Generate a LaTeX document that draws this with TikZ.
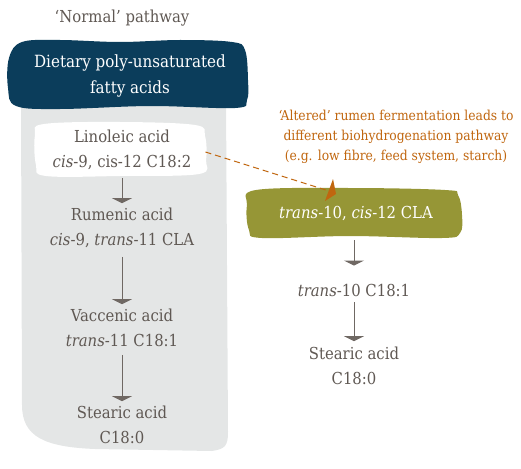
\documentclass[tikz,border=0pt]{standalone}
\usepackage{fontspec}
\setmainfont{DejaVu Serif Condensed}
\usetikzlibrary{arrows.meta}
\definecolor{navy}{HTML}{0B3D5B}
\definecolor{olive}{HTML}{969636}
\definecolor{rust}{HTML}{C0660F}
\definecolor{bggrey}{HTML}{E4E6E6}
\definecolor{txt}{HTML}{5F5853}
\definecolor{arrgrey}{HTML}{6F6863}
\tikzset{
  lbl/.style={text=txt, align=center, inner sep=0pt, font=\fontsize{16.5}{24.5}\selectfont},
  whitelbl/.style={lbl, text=white},
  arr/.style={draw=arrgrey, line width=1pt, -{Triangle[width=20pt,length=5pt]}},
}
\begin{document}
\begin{tikzpicture}[x=1pt,y=-1pt]
\useasboundingbox (0,0) rectangle (521,468);
% grey background
\fill[bggrey] (21,100) -- (226,100) -- (228,432) .. controls (228,446) and (225,449) .. (212,451)
  -- (95,449) .. controls (45,447) and (22,437) .. (22,405) -- cycle;
% dark blue blob
\fill[navy] plot[smooth cycle, tension=0.6] coordinates {(22,42) (60,40) (120,42) (180,40) (232,42) (245,50) (248,80) (247,100) (235,108) (150,106) (60,109) (16,106) (8,88) (9,58)};
% white blob
\fill[white] plot[smooth cycle, tension=0.6] coordinates {(44,124) (120,122) (195,125) (205,136) (206,160) (199,174) (120,176) (46,176) (36,165) (35,135)};
% olive blob
\fill[olive] plot[smooth cycle, tension=0.6] coordinates {(256,190) (350,188) (445,190) (458,195) (462,215) (460,233) (442,238) (350,236) (262,238) (249,230) (247,205)};

\node[lbl] (title) at (122,18) {‘Normal’ pathway};
\node[whitelbl, font=\fontsize{16.8}{26}\selectfont] (diet) at (130,76) {Dietary poly-unsaturated\\fatty acids};
\node[lbl] (lin) at (122,150) {Linoleic acid\\\textit{cis}-9, cis-12 C18:2};
\node[lbl] (rum) at (122,228) {Rumenic acid\\\textit{cis}-9, \textit{trans}-11 CLA};
\node[lbl] (vac) at (122,328) {Vaccenic acid\\\textit{trans}-11 C18:1};
\node[lbl] (stl) at (122,425) {Stearic acid\\C18:0};

\node[lbl, text=rust, font=\fontsize{13.7}{20}\selectfont] (alt) at (396,137) {‘Altered’ rumen fermentation leads to\\different biohydrogenation pathway\\(e.g. low fibre, feed system, starch)};
\node[whitelbl] (cla) at (356,213) {\textit{trans}-10, \textit{cis}-12 CLA};
\node[lbl] (t10) at (354,290) {\textit{trans}-10 C18:1};
\node[lbl] (str) at (354,366) {Stearic acid\\C18:0};

\draw[arr, shorten <=8pt, shorten >=5pt] (lin.south) -- (rum.north);
\draw[arr, shorten <=9pt, shorten >=5pt] (rum.south) -- (vac.north);
\draw[arr, shorten <=8pt, shorten >=5pt] (vac.south) -- (stl.north);
\draw[arr, shorten <=20pt, shorten >=18pt] (cla.south -| t10.north) -- (t10.north);
\draw[arr, shorten <=6pt, shorten >=6pt] (t10.south) -- (str.north);

\coordinate (tip) at (329,191);
\draw[rust, line width=1pt, dash pattern=on 6pt off 4pt] (lin.east) ++(14,2) -- (tip);
\fill[rust] (333,179) -- (336,194) -- (325,201) -- cycle;
\end{tikzpicture}
\end{document}
